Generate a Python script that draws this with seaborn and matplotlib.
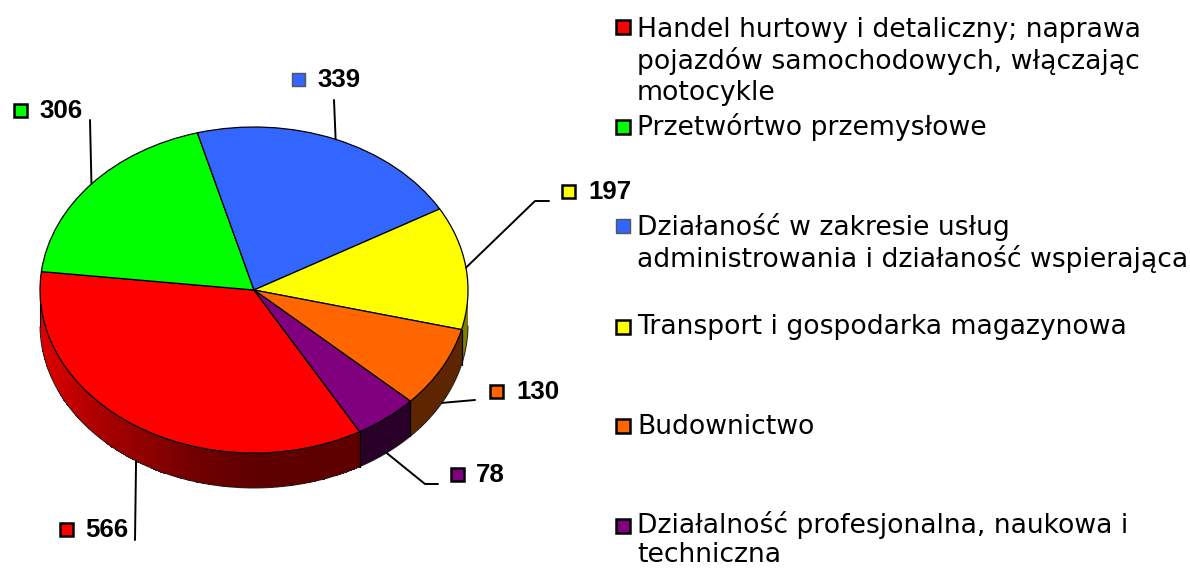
"""Wykres kołowy 3D: liczba podmiotów wg sekcji."""

import numpy as np
import matplotlib
matplotlib.use("Agg")
import matplotlib.pyplot as plt
import seaborn as sns

values = [566, 306, 339, 197, 130, 78]
colors_hex = ["#FF0000", "#00FF00", "#3366FF", "#FFFF00", "#FF6600", "#800080"]
legend_lines = [
    ["Handel hurtowy i detaliczny; naprawa", "pojazdów samochodowych, włączając", "motocykle"],
    ["Przetwórtwo przemysłowe"],
    ["Działaność w zakresie usług", "administrowania i działaność wspierająca"],
    ["Transport i gospodarka magazynowa"],
    ["Budownictwo"],
    ["Działalność profesjonalna, naukowa i", "techniczna"],
]

# uklad (piksele obrazka)
W, H = 1190, 568
PIE_BOX = (40, 127, 428, 326)  # lewo, gora, szerokosc, wysokosc
DEPTH = 35 / 163
START_ANGLE = -60.4
legend_base = [37, 135, 235, 334, 434, 533]
legend_square_y = [27, 127, 226, 327, 426, 526]
LINE_STEP = [31.7, 31.7, 31.7, 31.7, 31.7, 29]
label_square = [(66, 529), (20, 110), (298, 79), (568, 191), (496, 391), (457, 474)]
label_text_x = [85, 39, 317, 588, 516, 476]
leader_tail = [
    [(135, 540)],
    [(90, 120)],
    [(334, 100)],
    [(535, 201), (549, 201)],
    [(475, 400)],
    [(425, 484), (438, 484)],
]

sns.set_theme(style="white")
plt.rcParams["font.family"] = ["DejaVu Sans"]
palette = sns.color_palette(colors_hex)

fig = plt.figure(figsize=(W / 100, H / 100), dpi=100)
x0, y0, w, h = PIE_BOX
ax = fig.add_axes([x0 / W, 1 - (y0 + h) / H, w / W, h / H])

wedges, _ = ax.pie(
    values,
    colors=palette,
    startangle=START_ANGLE,
    counterclock=False,
    wedgeprops={"edgecolor": "black", "linewidth": 0.9, "clip_on": False},
)
for wedge in wedges:
    wedge.set_zorder(5)


def wall_shade(t, color):
    # cieniowanie boku: jasno z lewej, ciemno od srodka w prawo
    c = np.cos(t)
    f = np.interp(c, [-1, -0.75, -0.3, 0.0, 1.0], [0.88, 0.68, 0.45, 0.37, 0.37])
    if color == palette[3]:
        f = f + 0.13
    if color == palette[5]:
        f = f * 0.85
    return np.outer(f, color)


# bok tortu, tylko dolna polowa elipsy
edges = np.radians(START_ANGLE - 360 * np.cumsum([0] + values) / sum(values))
for i, color in enumerate(palette):
    t = np.linspace(edges[i + 1], edges[i], 160)
    t = np.mod(t + np.pi, 2 * np.pi) - np.pi
    t = np.sort(t[t <= 0])
    if t.size < 2:
        continue
    X = np.vstack([np.cos(t), np.cos(t)])
    Y = np.vstack([np.sin(t), np.sin(t) - DEPTH])
    mesh = ax.pcolormesh(X, Y, wall_shade(t[:-1], color)[np.newaxis, :, :], shading="flat",
                         antialiased=False, zorder=2)
    mesh.set_clip_on(False)
    ax.plot(np.cos(t), np.sin(t) - DEPTH, color="#222222", lw=0.7, zorder=3, clip_on=False)
    for a in (t[0], t[-1]):
        if -np.pi < a < -0.02:
            ax.plot([np.cos(a)] * 2, [np.sin(a), np.sin(a) - DEPTH], color="black", lw=0.8,
                    zorder=3, clip_on=False)
ax.set_aspect("auto")
ax.set_xlim(-1, 1)
ax.set_ylim(-1, 1)

# warstwa z opisami, wspolrzedne w pikselach
over = fig.add_axes([0, 0, 1, 1], facecolor="none", zorder=10)
over.set_xlim(0, W)
over.set_ylim(H, 0)
over.axis("off")


def square(x, y, color, size=13):
    # niebieski kwadrat ma w oryginale ciensza, szara ramke
    thin = color == palette[2]
    over.add_patch(plt.Rectangle((x - size / 2, y - size / 2), size, size, facecolor=color,
                                 edgecolor="#555555" if thin else "black",
                                 linewidth=1.0 if thin else 1.8))


mids = (edges[:-1] + edges[1:]) / 2
for i, val in enumerate(values):
    px, py = np.cos(mids[i]), np.sin(mids[i])
    if py < 0:
        py -= DEPTH
    start = over.transData.inverted().transform(ax.transData.transform((px, py)))
    pts = np.array([tuple(start)] + leader_tail[i])
    over.plot(pts[:, 0], pts[:, 1], color="black", lw=1.4)
    sx, sy = label_square[i]
    square(sx, sy, palette[i])
    over.text(label_text_x[i], sy + 1, str(val), family="Liberation Sans", weight="bold",
              fontsize=18.6, va="center", ha="left", color="black")

for i, lines in enumerate(legend_lines):
    square(623, legend_square_y[i], palette[i], size=14)
    for j, line in enumerate(lines):
        over.text(637, legend_base[i] + j * LINE_STEP[i], line, fontsize=19.2, va="baseline",
                  ha="left", color="black")

fig.savefig("out.png", dpi=100, facecolor="white")
